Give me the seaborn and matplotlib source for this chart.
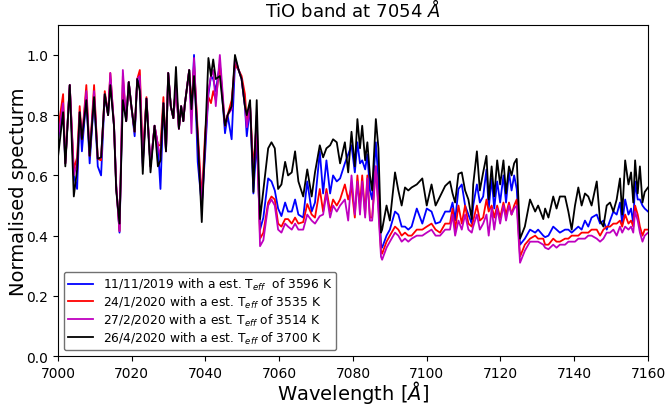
import matplotlib
matplotlib.use("Agg")
import matplotlib.pyplot as plt
import seaborn as sns
import pandas as pd

# ---- data ----
wavelength = [
    7000.0, 7001.4, 7002.0, 7003.2, 7004.3, 7005.2, 7005.9, 7006.5, 7007.7, 7008.6,
    7009.8, 7010.8, 7011.7, 7012.7, 7013.6, 7014.2, 7015.2, 7015.8, 7016.7, 7017.6,
    7018.5, 7019.2, 7019.9, 7020.8, 7021.5, 7022.2, 7023.0, 7024.0, 7025.1, 7026.2,
    7027.1, 7027.8, 7028.6, 7029.3, 7029.9, 7030.6, 7031.3, 7032.0, 7032.8, 7033.4,
    7034.0, 7034.4, 7035.6, 7036.2, 7036.9, 7037.9, 7039.0, 7039.9, 7040.8, 7041.5,
    7042.1, 7042.8, 7043.9, 7045.3, 7046.0, 7047.1, 7048.0, 7049.0, 7049.8, 7050.7,
    7051.2, 7052.1, 7053.0, 7053.9, 7054.8,
    7055.7, 7057.0, 7057.9, 7058.8, 7059.7, 7060.6, 7061.6, 7062.4, 7063.4, 7064.3,
    7065.2, 7066.5, 7067.6, 7068.8, 7069.7, 7071.0, 7071.9, 7072.8, 7073.8, 7074.6,
    7075.6, 7076.5, 7077.8, 7078.7, 7079.6, 7080.5, 7081.2, 7081.9, 7082.5, 7083.3,
    7083.9, 7084.6, 7085.2, 7086.2, 7086.9, 7087.6, 7087.9, 7089.1, 7090.0, 7091.4,
    7092.3, 7093.2, 7094.1, 7095.0, 7095.9, 7097.3, 7098.8, 7100.0, 7101.3, 7102.4,
    7103.6, 7105.0, 7106.3, 7107.0, 7107.7, 7108.6, 7109.5, 7110.4, 7111.3, 7112.2,
    7112.6, 7113.6, 7114.4, 7115.3, 7116.2, 7116.8, 7117.6, 7118.3, 7119.1, 7119.9,
    7120.8, 7121.5, 7122.3, 7123.0, 7123.7, 7124.4, 7125.3, 7126.6, 7128.0, 7129.4,
    7130.2, 7131.6, 7132.1, 7133.0, 7134.3, 7135.2, 7136.1, 7137.5, 7138.4, 7139.3,
    7140.2, 7141.1, 7142.0, 7142.9, 7143.8, 7144.7, 7146.1, 7147.0, 7147.9, 7148.8,
    7149.7, 7150.6, 7151.5, 7152.4, 7153.0, 7153.8, 7154.7, 7155.4, 7156.0, 7156.5,
    7157.2, 7157.8, 7158.5, 7159.1, 7160.0,
]

flux_11nov2019 = [
    0.72, 0.82, 0.64, 0.90, 0.60, 0.555, 0.81, 0.68, 0.86, 0.64,
    0.86, 0.63, 0.60, 0.87, 0.80, 0.92, 0.765, 0.565, 0.41, 0.90,
    0.78, 0.91, 0.83, 0.73, 0.92, 0.90, 0.64, 0.855, 0.63, 0.765,
    0.70, 0.555, 0.84, 0.68, 0.94, 0.83, 0.79, 0.90, 0.755, 0.83,
    0.78, 0.835, 0.95, 0.80, 1.00, 0.645, 0.50, 0.67, 0.87, 0.93,
    0.92, 0.88, 0.97, 0.74, 0.80, 0.72, 0.97, 0.95, 0.92, 0.83,
    0.73, 0.83, 0.54, 0.72, 0.42,
    0.46, 0.59, 0.58, 0.55, 0.49, 0.465, 0.51, 0.48, 0.48, 0.52,
    0.47, 0.46, 0.58, 0.48, 0.51, 0.68, 0.54, 0.65, 0.54, 0.60,
    0.58, 0.59, 0.64, 0.67, 0.70, 0.61, 0.71, 0.64, 0.65, 0.62,
    0.67, 0.55, 0.52, 0.71, 0.58, 0.37, 0.36, 0.40, 0.42, 0.48,
    0.47, 0.43, 0.43, 0.42, 0.43, 0.49, 0.44, 0.49, 0.48, 0.44,
    0.445, 0.48, 0.48, 0.51, 0.45, 0.555, 0.57, 0.50, 0.47, 0.44,
    0.50, 0.57, 0.51, 0.53, 0.62, 0.49, 0.59, 0.49, 0.58, 0.51,
    0.60, 0.51, 0.61, 0.55, 0.60, 0.555, 0.37, 0.39, 0.42, 0.41,
    0.42, 0.40, 0.395, 0.40, 0.43, 0.42, 0.41, 0.42, 0.42, 0.41,
    0.42, 0.43, 0.42, 0.45, 0.43, 0.46, 0.47, 0.44, 0.45, 0.42,
    0.45, 0.48, 0.47, 0.51, 0.44, 0.52, 0.47, 0.49, 0.44, 0.58,
    0.52, 0.52, 0.50, 0.49, 0.48,
]

flux_24jan2020 = [
    0.75, 0.87, 0.64, 0.90, 0.62, 0.66, 0.83, 0.72, 0.90, 0.665,
    0.90, 0.655, 0.65, 0.88, 0.80, 0.94, 0.765, 0.565, 0.415, 0.93,
    0.78, 0.91, 0.83, 0.745, 0.92, 0.95, 0.66, 0.86, 0.63, 0.765,
    0.70, 0.70, 0.86, 0.68, 0.94, 0.83, 0.79, 0.90, 0.755, 0.83,
    0.78, 0.835, 0.95, 0.82, 0.97, 0.75, 0.52, 0.74, 0.86, 0.84,
    0.88, 0.85, 0.97, 0.765, 0.80, 0.85, 0.97, 0.95, 0.93, 0.87,
    0.78, 0.83, 0.62, 0.78, 0.39,
    0.41, 0.51, 0.53, 0.52, 0.44, 0.43, 0.455, 0.455, 0.44, 0.46,
    0.44, 0.445, 0.505, 0.47, 0.46, 0.555, 0.48, 0.555, 0.48, 0.52,
    0.50, 0.52, 0.57, 0.52, 0.56, 0.46, 0.60, 0.50, 0.60, 0.47,
    0.60, 0.46, 0.46, 0.63, 0.50, 0.35, 0.34, 0.38, 0.40, 0.43,
    0.42, 0.40, 0.41, 0.40, 0.40, 0.42, 0.42, 0.43, 0.44, 0.42,
    0.41, 0.44, 0.44, 0.49, 0.42, 0.50, 0.44, 0.50, 0.44, 0.43,
    0.45, 0.50, 0.45, 0.46, 0.52, 0.48, 0.50, 0.46, 0.50, 0.46,
    0.51, 0.47, 0.51, 0.47, 0.50, 0.52, 0.33, 0.37, 0.39, 0.40,
    0.39, 0.39, 0.37, 0.37, 0.39, 0.38, 0.38, 0.39, 0.39, 0.40,
    0.40, 0.40, 0.41, 0.41, 0.41, 0.42, 0.42, 0.40, 0.42, 0.43,
    0.43, 0.44, 0.44, 0.45, 0.43, 0.47, 0.44, 0.45, 0.43, 0.50,
    0.47, 0.43, 0.40, 0.42, 0.42,
]

flux_27feb2020 = [
    0.72, 0.84, 0.64, 0.90, 0.60, 0.64, 0.81, 0.72, 0.88, 0.665,
    0.88, 0.655, 0.66, 0.87, 0.80, 0.94, 0.765, 0.565, 0.415, 0.95,
    0.78, 0.91, 0.83, 0.745, 0.92, 0.93, 0.63, 0.855, 0.63, 0.765,
    0.70, 0.66, 0.84, 0.68, 0.94, 0.83, 0.79, 0.90, 0.755, 0.83,
    0.78, 0.835, 0.95, 0.74, 0.99, 0.72, 0.50, 0.70, 0.88, 0.93,
    0.95, 0.83, 1.00, 0.765, 0.80, 0.82, 0.99, 0.95, 0.92, 0.83,
    0.76, 0.83, 0.58, 0.80, 0.365,
    0.385, 0.50, 0.52, 0.50, 0.42, 0.41, 0.44, 0.43, 0.42, 0.44,
    0.42, 0.42, 0.47, 0.45, 0.44, 0.465, 0.47, 0.54, 0.46, 0.50,
    0.48, 0.50, 0.52, 0.45, 0.60, 0.47, 0.58, 0.47, 0.58, 0.46,
    0.59, 0.45, 0.45, 0.63, 0.48, 0.33, 0.32, 0.36, 0.38, 0.41,
    0.40, 0.38, 0.39, 0.38, 0.39, 0.40, 0.40, 0.41, 0.42, 0.40,
    0.40, 0.42, 0.42, 0.47, 0.40, 0.45, 0.42, 0.47, 0.42, 0.41,
    0.43, 0.47, 0.42, 0.44, 0.47, 0.40, 0.49, 0.42, 0.49, 0.44,
    0.50, 0.45, 0.50, 0.47, 0.49, 0.50, 0.31, 0.35, 0.38, 0.38,
    0.38, 0.37, 0.36, 0.355, 0.37, 0.36, 0.37, 0.37, 0.38, 0.38,
    0.38, 0.39, 0.39, 0.39, 0.40, 0.40, 0.39, 0.38, 0.39, 0.41,
    0.41, 0.42, 0.40, 0.43, 0.41, 0.43, 0.42, 0.43, 0.41, 0.48,
    0.45, 0.41, 0.38, 0.40, 0.41,
]

flux_26apr2020 = [
    0.66, 0.81, 0.63, 0.90, 0.53, 0.62, 0.81, 0.72, 0.85, 0.665,
    0.86, 0.655, 0.66, 0.87, 0.80, 0.90, 0.765, 0.55, 0.44, 0.85,
    0.78, 0.91, 0.83, 0.745, 0.92, 0.88, 0.605, 0.855, 0.61, 0.765,
    0.63, 0.65, 0.84, 0.68, 0.94, 0.83, 0.79, 0.96, 0.755, 0.83,
    0.78, 0.835, 0.95, 0.82, 0.93, 0.73, 0.445, 0.72, 0.99, 0.93,
    0.985, 0.92, 0.93, 0.765, 0.80, 0.83, 1.00, 0.95, 0.92, 0.83,
    0.80, 0.85, 0.545, 0.85, 0.455,
    0.55, 0.69, 0.71, 0.69, 0.555, 0.57, 0.645, 0.60, 0.61, 0.68,
    0.58, 0.53, 0.62, 0.53, 0.61, 0.70, 0.66, 0.69, 0.70, 0.72,
    0.71, 0.64, 0.71, 0.61, 0.745, 0.63, 0.787, 0.69, 0.765, 0.65,
    0.71, 0.60, 0.55, 0.787, 0.69, 0.41, 0.42, 0.50, 0.45, 0.61,
    0.55, 0.50, 0.56, 0.55, 0.56, 0.57, 0.59, 0.50, 0.57, 0.50,
    0.53, 0.565, 0.58, 0.54, 0.51, 0.605, 0.61, 0.55, 0.52, 0.455,
    0.57, 0.68, 0.55, 0.61, 0.665, 0.52, 0.63, 0.53, 0.65, 0.57,
    0.65, 0.54, 0.63, 0.60, 0.64, 0.655, 0.39, 0.43, 0.52, 0.48,
    0.50, 0.455, 0.49, 0.46, 0.53, 0.49, 0.53, 0.53, 0.48, 0.42,
    0.50, 0.56, 0.50, 0.54, 0.53, 0.50, 0.58, 0.45, 0.43, 0.50,
    0.51, 0.48, 0.52, 0.59, 0.47, 0.65, 0.57, 0.61, 0.51, 0.65,
    0.54, 0.63, 0.51, 0.545, 0.56,
]

labels = [
    r'11/11/2019 with a est. T$_{eff}$  of 3596 K',
    r'24/1/2020 with a est. T$_{eff}$ of 3535 K',
    r'27/2/2020 with a est. T$_{eff}$ of 3514 K',
    r'26/4/2020 with a est. T$_{eff}$ of 3700 K',
]
series = [flux_11nov2019, flux_24jan2020, flux_27feb2020, flux_26apr2020]
colors = ['blue', 'red', 'm', 'black']

frames = []
for lab, vals in zip(labels, series):
    frames.append(pd.DataFrame({'wavelength': wavelength, 'flux': vals, 'epoch': lab}))
df = pd.concat(frames, ignore_index=True)

fig = plt.figure(figsize=(6.66, 4.10), dpi=100)
ax = fig.add_axes([0.087, 0.129, 0.886, 0.808])

sns.lineplot(data=df, x='wavelength', y='flux', hue='epoch', hue_order=labels,
             palette=colors, estimator=None, sort=False, linewidth=1.3, ax=ax)

ax.set_xlim(7000, 7160)
ax.set_ylim(0, 1.1)
ax.set_xticks(range(7000, 7161, 20))
ax.set_yticks([0.0, 0.2, 0.4, 0.6, 0.8, 1.0])
ax.tick_params(labelsize=10)
ax.set_xlabel(r'Wavelength [$\AA$]', fontsize=14, labelpad=-1)
ax.set_ylabel('Normalised specturm', fontsize=14, labelpad=-1)
ax.set_title(r'TiO band at 7054 $\AA$', fontsize=13)

leg = ax.legend(loc='lower left', fontsize=8.8, frameon=True, labelspacing=0.15,
                borderaxespad=0.5, borderpad=0.35)
leg.get_frame().set_edgecolor('0.3')

fig.savefig('out.png', dpi=100)
